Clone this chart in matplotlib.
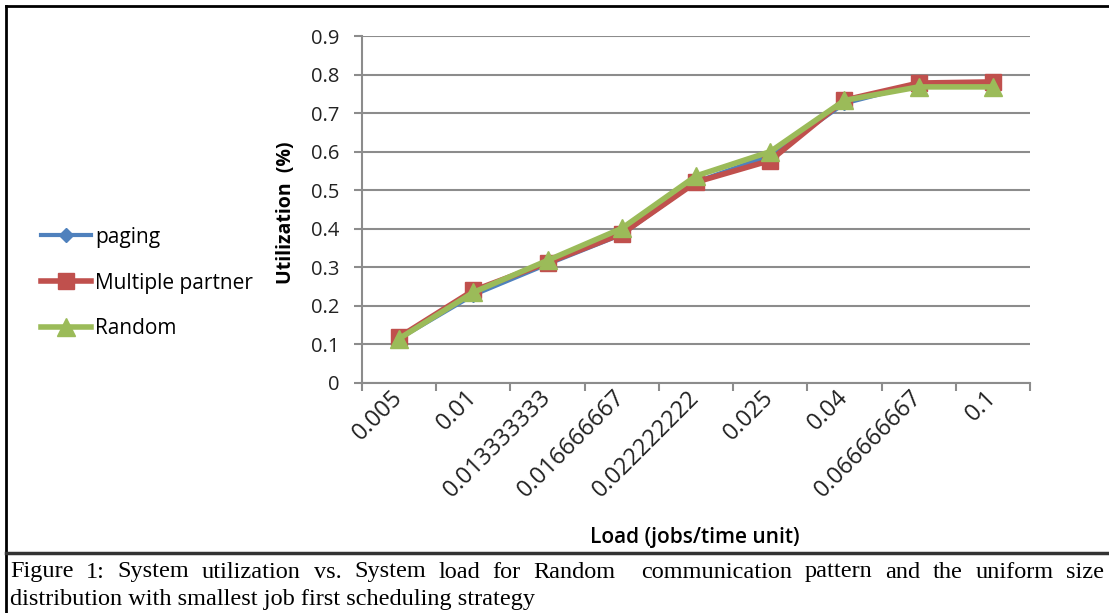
import matplotlib.pyplot as plt
import matplotlib.transforms as mtransforms
from matplotlib.lines import Line2D

# data
loads = ['0.005', '0.01', '0.013333333', '0.016666667', '0.022222222',
         '0.025', '0.04', '0.066666667', '0.1']
paging = [0.115, 0.228, 0.308, 0.385, 0.522, 0.590, 0.725, 0.775, 0.780]
multiple_partner = [0.119, 0.240, 0.312, 0.387, 0.521, 0.577, 0.734, 0.778, 0.781]
random_pat = [0.115, 0.235, 0.318, 0.401, 0.537, 0.600, 0.733, 0.768, 0.768]

caption1 = ('Figure 1: System utilization vs. System load for Random  '
            'communication pattern and the uniform size')
caption2 = 'distribution with smallest job first scheduling strategy'

blue = '#4F81BD'
red = '#C0504D'
green = '#9BBB59'
grid_col = '#8C8C8C'
font = 'Open Sans'

fig = plt.figure(figsize=(11.09, 6.13), dpi=100)
W, H = 1109, 613
ax = fig.add_axes([362 / W, 1 - 383 / H, (1030 - 362) / W, (383 - 36) / H])

x = list(range(len(loads)))
ax.plot(x, paging, color=blue, lw=3, marker='D', ms=7, label='paging', zorder=3)
ax.plot(x, multiple_partner, color=red, lw=4, marker='s', ms=12,
        label='Multiple partner', zorder=4)
ax.plot(x, random_pat, color=green, lw=4, marker='^', ms=13, label='Random', zorder=5)

ax.set_xlim(-0.5, len(loads) - 0.5)
ax.set_ylim(0, 0.9)
ax.set_yticks([i / 10 for i in range(10)])
ax.set_yticklabels(['0'] + ['%.1f' % (i / 10) for i in range(1, 10)],
                   fontsize=14.5, family=font, color='#222222')
ax.yaxis.grid(True, color=grid_col, lw=1.5)
ax.set_axisbelow(True)

ax.set_xticks(x)
ax.set_xticklabels(loads, rotation=45, ha='right', va='center', rotation_mode='anchor',
                   fontsize=17, family=font, color='#222222')
shift = mtransforms.ScaledTranslation(5 / 100, 0, fig.dpi_scale_trans)
for lbl in ax.get_xticklabels():
    lbl.set_transform(lbl.get_transform() + shift)
ax.tick_params(axis='x', length=0, pad=8)
ax.set_xticks([i - 0.5 for i in range(len(loads) + 1)], minor=True)
ax.tick_params(axis='x', which='minor', length=6, color=grid_col, width=1.5)
ax.tick_params(axis='y', length=6, color=grid_col, width=1.5, pad=10)

for s in ['top', 'right']:
    ax.spines[s].set_visible(False)
for s in ['left', 'bottom']:
    ax.spines[s].set_color(grid_col)
    ax.spines[s].set_linewidth(1.5)

ax.set_ylabel('Utilization  (%)', fontsize=14, fontweight='bold', family=font,
              va='center', ha='center')
ax.yaxis.set_label_coords((286 - 362) / 668, (383 - 213) / 347)
fig.text(695 / W, 1 - 538 / H, 'Load (jobs/time unit)', fontsize=15,
         family=font, fontweight='semibold', ha='center', va='center')

handles = [
    Line2D([], [], color=blue, lw=3, marker='D', ms=7),
    Line2D([], [], color=red, lw=4, marker='s', ms=12),
    Line2D([], [], color=green, lw=4, marker='^', ms=13),
]
fig.legend(handles, ['paging', 'Multiple partner', 'Random'],
           loc='center left', bbox_to_anchor=(22 / W, 1 - 283 / H),
           frameon=False, prop={'family': font, 'size': 15},
           handlelength=2.4, handletextpad=0.2, labelspacing=1.2)

# frame around chart and caption separator
fig.add_artist(Line2D([6 / W, 1], [1 - 6 / H, 1 - 6 / H], color='black', lw=2))
fig.add_artist(Line2D([6 / W, 6 / W], [1 - 6 / H, 0], color='black', lw=2))
fig.add_artist(Line2D([6 / W, 1], [1 - 553 / H, 1 - 553 / H], color='#333333', lw=2.5))

# justified caption, first line stretched between the margins
renderer = fig.canvas.get_renderer()
cap_kw = dict(fontsize=17.5, family='Liberation Serif', va='center', ha='left')
words = caption1.split(' ')
arts = [fig.text(0, 1 - 572 / H, w, **cap_kw) for w in words]
widths = [a.get_window_extent(renderer).width if w else 0 for a, w in zip(arts, words)]
left, right = 10, 1104
gap = (right - left - sum(widths)) / (len(words) - 1)
pos = left
for a, wd in zip(arts, widths):
    a.set_x(pos / W)
    pos += wd + gap
fig.text(10 / W, 1 - 599 / H, caption2, **cap_kw)

fig.savefig('out.png', dpi=100)
